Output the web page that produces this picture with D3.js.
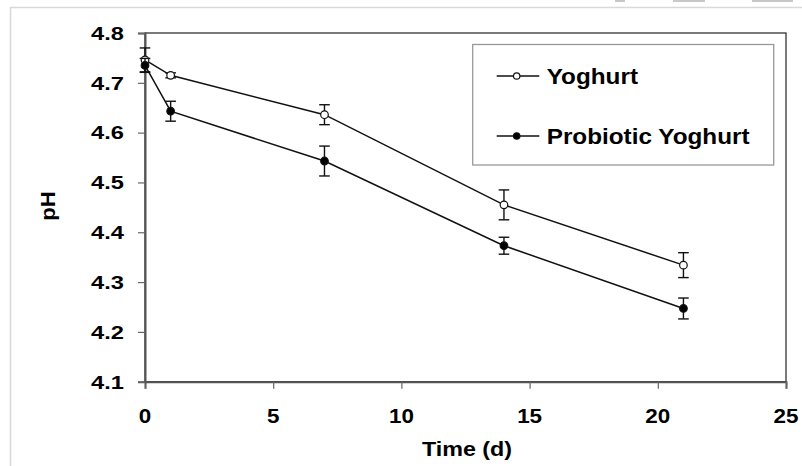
<!DOCTYPE html>
<html><head><meta charset="utf-8">
<script src="https://cdn.jsdelivr.net/npm/d3@7"></script>
<style>html,body{margin:0;padding:0;background:#fff;}svg{display:block;}</style>
</head><body>
<svg id="c" width="802" height="466"></svg>
<script>
const days = [0, 1, 7, 14, 21];
const yoghurt = [4.746, 4.715, 4.636, 4.455, 4.334];
const yoghurtErr = [0.024, 0.005, 0.02, 0.03, 0.025];
const probiotic = [4.735, 4.643, 4.543, 4.373, 4.247];
const probioticErr = [0.014, 0.02, 0.03, 0.017, 0.021];
const xTicks = [0, 5, 10, 15, 20, 25];
const yTicks = [4.1, 4.2, 4.3, 4.4, 4.5, 4.6, 4.7, 4.8];
const seriesNames = ["Yoghurt", "Probiotic Yoghurt"];

const svg = d3.select("#c");
const FONT = "'Liberation Sans', Arial, sans-serif";

// outer frame
svg.append("rect").attr("x", 10.5).attr("y", 7.5).attr("width", 800).attr("height", 470)
  .attr("fill", "none").attr("stroke", "#d8d8d8").attr("stroke-width", 1.5);
// top-right gray bits
[[615, 10], [673, 32], [752, 41]].forEach(d => {
  svg.append("rect").attr("x", d[0]).attr("y", 0).attr("width", d[1]).attr("height", 2).attr("fill", "#c8c8c8");
});

const L = 145, R = 786, T = 33, B = 381.7;
const x = d3.scaleLinear().domain([0, 25]).range([L, R]);
const y = d3.scaleLinear().domain([4.1, 4.8]).range([B, T]);

function stext(g, txt, px, py, size, sx, anchor, rot) {
  const t = g.append("g").attr("transform", `translate(${px},${py})` + (rot ? ` rotate(${rot})` : "") + ` scale(${sx},1)`)
    .append("text").attr("x", 0).attr("y", 0).attr("text-anchor", anchor)
    .attr("font-family", FONT).attr("font-weight", "bold").attr("font-size", size).attr("fill", "#000").text(txt);
  return t;
}

// plot frame
svg.append("rect").attr("x", L).attr("y", T).attr("width", R - L).attr("height", B - T)
  .attr("fill", "none").attr("stroke", "#333").attr("stroke-width", 1.3);

// axes
const xAxis = svg.append("g").attr("transform", `translate(0,${B})`)
  .call(d3.axisBottom(x).tickValues(xTicks).tickSize(7).tickFormat(""));
const yAxis = svg.append("g").attr("transform", `translate(${L},0)`)
  .call(d3.axisLeft(y).tickValues(yTicks).tickSize(7).tickFormat(""));
[xAxis, yAxis].forEach(a => {
  a.select(".domain").attr("stroke", "#555").attr("stroke-width", 2);
  a.selectAll(".tick line").attr("stroke", "#666").attr("stroke-width", 1.2);
});

xTicks.forEach(v => stext(svg, String(v), x(v), 423, 19.5, 1.15, "middle"));
yTicks.forEach(v => stext(svg, v.toFixed(1), 124, y(v) + 6.8, 18.5, 1.28, "end"));

stext(svg, "Time (d)", 467, 456, 21, 1.11, "middle");
stext(svg, "pH", 55, 206, 21, 1.05, "middle", -90);

// series
const line = d3.line().x((d, i) => x(days[i])).y(d => y(d));
const series = [
  {vals: yoghurt, err: yoghurtErr, fill: "#fff"},
  {vals: probiotic, err: probioticErr, fill: "#000"}
];
series.forEach(s => {
  svg.append("path").attr("d", line(s.vals)).attr("fill", "none").attr("stroke", "#111").attr("stroke-width", 1.5);
});
series.forEach(s => {
  const g = svg.append("g");
  s.vals.forEach((v, i) => {
    const cx = x(days[i]);
    const y1 = y(v + s.err[i]), y2 = y(v - s.err[i]);
    g.append("line").attr("x1", cx).attr("x2", cx).attr("y1", y1).attr("y2", y2).attr("stroke", "#111").attr("stroke-width", 1.4);
    [y1, y2].forEach(yy => g.append("line").attr("x1", cx - 5.3).attr("x2", cx + 5.3).attr("y1", yy).attr("y2", yy).attr("stroke", "#111").attr("stroke-width", 1.4));
  });
  g.selectAll("circle").data(s.vals).join("circle")
    .attr("cx", (d, i) => x(days[i])).attr("cy", d => y(d)).attr("r", 3.8)
    .attr("fill", s.fill).attr("stroke", "#111").attr("stroke-width", 1.2);
});

// legend
const lg = svg.append("g");
lg.append("rect").attr("x", 472.7).attr("y", 44.5).attr("width", 301).attr("height", 120.5)
  .attr("fill", "#fff").attr("stroke", "#999").attr("stroke-width", 1.3);
const legY = [76, 136];
seriesNames.forEach((n, i) => {
  lg.append("line").attr("x1", 496.7).attr("x2", 539.3).attr("y1", legY[i]).attr("y2", legY[i]).attr("stroke", "#111").attr("stroke-width", 1.5);
  lg.append("circle").attr("cx", 516.7).attr("cy", legY[i]).attr("r", 3.2).attr("fill", series[i].fill).attr("stroke", "#111").attr("stroke-width", 1.2);
  stext(lg, n, 546.7, legY[i] + 7.5, 21.5, 1.13, "start");
});
</script>
</body></html>
